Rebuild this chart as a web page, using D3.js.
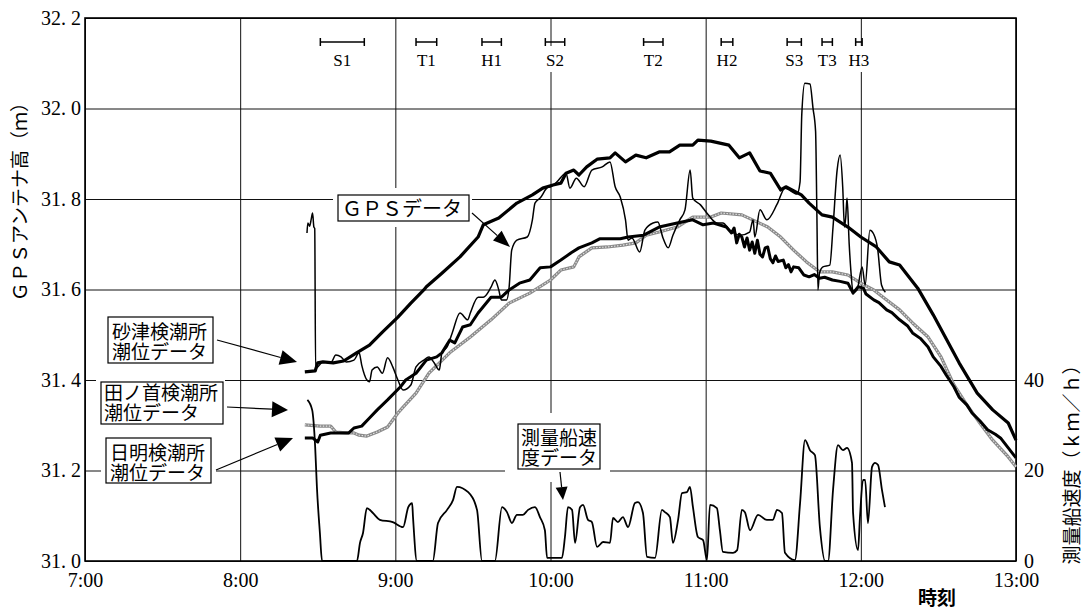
<!DOCTYPE html>
<html>
<head>
<meta charset="utf-8">
<script src="https://cdn.jsdelivr.net/npm/d3@7"></script>
<style>
  body { margin: 0; background: #fff; }
  svg { display: block; }
  .note { font-family: 'Noto Sans CJK JP', 'Noto Sans CJK SC', sans-serif; color: #000;
          white-space: nowrap; margin: 0; padding: 0; }
</style>
</head>
<body>
<svg id="chart" width="1084" height="610"></svg>
<script>
// ---- Data -----------------------------------------------------------------
// Tide level at the Sunatsu gauge (m)
const sunatsuTide = [
  ["8:25",31.418],["8:29",31.420],["8:30",31.438],["8:32",31.440],["8:36",31.438],["8:40",31.442],
  ["8:45",31.460],["8:50",31.477],["8:55",31.506],["9:01",31.539],["9:06",31.570],["9:11",31.599],
  ["9:12",31.606],["9:18",31.636],["9:25",31.672],["9:32",31.716],["9:34",31.743],["9:40",31.758],
  ["9:47",31.791],["9:53",31.809],["9:57",31.824],["10:01",31.831],["10:04",31.835],["10:06",31.857],
  ["10:09",31.864],["10:11",31.853],["10:14",31.871],["10:18",31.888],["10:23",31.891],["10:25",31.902],
  ["10:29",31.882],["10:33",31.897],["10:37",31.891],["10:42",31.904],["10:46",31.904],["10:50",31.919],
  ["10:55",31.919],["10:57",31.930],["11:02",31.928],["11:09",31.919],["11:13",31.891],["11:17",31.902],
  ["11:21",31.862],["11:25",31.857],["11:29",31.820],["11:31",31.827],["11:37",31.809],["11:40",31.791],
  ["11:45",31.765],["11:49",31.760],["11:55",31.738],["12:00",31.716],["12:06",31.694],["12:11",31.661],
  ["12:15",31.654],["12:22",31.603],["12:28",31.544],["12:38",31.438],["12:45",31.371],["12:51",31.334],
  ["12:57",31.305],["13:00",31.267]
];

// Tide level at the Tanokubi gauge (m)
const tanokubiTide = [
  ["8:25",31.301],["8:31",31.298],["8:35",31.298],["8:37",31.285],["8:41",31.283],["8:44",31.283],
  ["8:46",31.278],["8:49",31.276],["8:53",31.285],["8:57",31.296],["9:01",31.327],["9:03",31.340],
  ["9:08",31.371],["9:13",31.415],["9:21",31.460],["9:29",31.495],["9:37",31.533],["9:44",31.570],
  ["9:52",31.592],["10:00",31.621],["10:04",31.643],["10:09",31.650],["10:11",31.672],["10:16",31.692],
  ["10:22",31.694],["10:28",31.698],["10:33",31.703],["10:37",31.720],["10:42",31.727],["10:49",31.738],
  ["10:55",31.760],["11:02",31.760],["11:06",31.769],["11:14",31.765],["11:20",31.749],["11:24",31.738],
  ["11:29",31.716],["11:34",31.687],["11:39",31.661],["11:44",31.639],["11:49",31.639],["11:55",31.632],
  ["12:00",31.614],["12:05",31.599],["12:10",31.577],["12:15",31.555],["12:20",31.526],["12:26",31.495],
  ["12:31",31.451],["12:36",31.389],["12:41",31.345],["12:46",31.305],["12:51",31.267],["12:57",31.230],
  ["13:00",31.208]
];

// Tide level at the Hiakari gauge (m)
const hiakariTide = [
  ["8:25",31.272],["8:28",31.272],["8:30",31.263],["8:31",31.278],["8:35",31.283],["8:42",31.283],
  ["8:44",31.294],["8:47",31.298],["8:50",31.316],["8:53",31.334],["8:57",31.356],["9:02",31.385],
  ["9:04",31.400],["9:08",31.415],["9:12",31.444],["9:16",31.451],["9:18",31.460],["9:21",31.488],
  ["9:23",31.482],["9:26",31.517],["9:29",31.522],["9:32",31.548],["9:37",31.583],["9:41",31.583],
  ["9:44",31.599],["9:48",31.614],["9:52",31.621],["9:56",31.648],["10:00",31.650],["10:04",31.665],
  ["10:08",31.681],["10:11",31.692],["10:16",31.703],["10:19",31.712],["10:27",31.712],["10:30",31.716],
  ["10:36",31.720],["10:42",31.738],["10:49",31.747],["10:55",31.754],["10:59",31.743],["11:03",31.747],
  ["11:08",31.738],["11:10",31.725],["11:11",31.736],["11:12",31.703],["11:13",31.722],["11:14",31.716],
  ["11:15",31.694],["11:16",31.714],["11:17",31.687],["11:18",31.705],["11:19",31.680],["11:20",31.709],
  ["11:21",31.678],["11:22",31.672],["11:23",31.692],["11:24",31.694],["11:25",31.668],["11:26",31.659],
  ["11:27",31.674],["11:28",31.662],["11:30",31.665],["11:31",31.648],["11:32",31.655],["11:33",31.639],
  ["11:34",31.650],["11:36",31.648],["11:38",31.632],["11:40",31.628],["11:42",31.633],["11:44",31.625],
  ["11:46",31.627],["11:49",31.621],["11:52",31.618],["11:55",31.614],["11:57",31.592],["11:59",31.606],
  ["12:01",31.603],["12:02",31.590],["12:05",31.577],["12:07",31.571],["12:10",31.555],["12:12",31.549],
  ["12:15",31.533],["12:18",31.520],["12:20",31.504],["12:23",31.492],["12:26",31.473],["12:28",31.451],
  ["12:31",31.430],["12:33",31.411],["12:36",31.385],["12:38",31.362],["12:41",31.345],["12:43",31.327],
  ["12:46",31.310],["12:49",31.290],["12:52",31.280],["12:54",31.272],["12:57",31.250],["13:00",31.228]
];

// GPS antenna height on the survey boat (m)
const gpsHeight = [
  ["8:25:50",31.725],["8:26:10",31.747],["8:26:50",31.740],["8:27:30",31.756],["8:28:00",31.769],
  ["8:28:30",31.738],["8:28:50",31.735],["8:29:10",31.426],["8:30",31.429],["8:32",31.440],
  ["8:35",31.438],["8:37",31.455],["8:39",31.451],["8:41",31.440],["8:44",31.444],["8:46",31.460],
  ["8:47",31.433],["8:49",31.400],["8:50",31.396],["8:51",31.422],["8:53",31.429],["8:55",31.415],
  ["8:57",31.449],["8:59",31.429],["9:01",31.400],["9:03",31.378],["9:06",31.389],["9:08",31.429],
  ["9:11",31.444],["9:13",31.451],["9:15",31.438],["9:17",31.422],["9:18",31.460],["9:20",31.473],
  ["9:22",31.504],["9:25",31.548],["9:28",31.533],["9:29",31.548],["9:32",31.583],["9:34",31.583],
  ["9:37",31.605],["9:38:30",31.621],["9:40",31.599],["9:41",31.577],["9:43",31.577],["9:44",31.605],
  ["9:45",31.687],["9:47",31.709],["9:51",31.716],["9:53",31.754],["9:54",31.791],["9:56",31.802],
  ["9:59",31.826],["10:00",31.827],["10:02:30",31.838],["10:06",31.857],["10:07:30",31.824],
  ["10:10",31.846],["10:13",31.827],["10:16",31.864],["10:20",31.871],["10:23",31.882],["10:25",31.827],
  ["10:27",31.804],["10:29",31.754],["10:30",31.709],["10:31:30",31.714],["10:34:30",31.683],
  ["10:36:30",31.731],["10:39:40",31.747],["10:41:30",31.749],["10:43:30",31.714],["10:45:30",31.692],
  ["10:47:20",31.720],["10:50",31.754],["10:52",31.776],["10:54",31.864],["10:55",31.802],
  ["10:58",31.787],["11:01",31.765],["11:04:20",31.747],["11:06:40",31.747],["11:09:20",31.731],
  ["11:13:20",31.720],["11:17",31.727],["11:18:20",31.754],["11:19",31.716],["11:21",31.776],
  ["11:23:40",31.754],["11:27:40",31.789],["11:30:40",31.824],["11:35:20",31.811],["11:36:30",31.838],
  ["11:37:10",31.987],["11:38:20",32.056],["11:40:20",32.054],["11:41:30",32.001],["11:42:30",31.950],
  ["11:43:00",31.769],["11:43:25",31.599],["11:44",31.636],["11:45:20",31.650],["11:48",31.654],
  ["11:49:15",31.738],["11:50:50",31.864],["11:52",31.897],["11:53",31.826],["11:53:40",31.738],
  ["11:54:10",31.760],["11:54:40",31.802],["11:55:30",31.700],["11:56:10",31.640],["11:57",31.594],
  ["11:58:30",31.599],["12:00:30",31.650],["12:01:40",31.610],["12:03:30",31.731],["12:05",31.722],
  ["12:06:30",31.690],["12:08",31.610],["12:09:30",31.594]
];

// Survey boat speed (km/h)
const boatSpeed = [
  ["8:26",35.6],["8:27:50",33.4],["8:29",25.2],["8:29:40",16.4],["8:30:50",6.2],["8:31:40",0],
  ["8:45:10",0],["8:46:20",4.0],["8:47:30",6.2],["8:49",11.7],["8:51:20",10.6],["8:54",9.1],
  ["8:59",8.6],["9:03",7.5],["9:05",11.9],["9:06:30",12.8],["9:06:50",9.7],["9:08:20",0],
  ["9:14:30",0],["9:16:30",8.4],["9:20",11.3],["9:22:20",13.5],["9:23:50",16.4],["9:28:10",15.2],
  ["9:31:35",11.3],["9:33:30",0],["9:38:30",0],["9:41:15",11.9],["9:43:10",10.8],["9:45:05",8.4],
  ["9:47",10.2],["9:49:20",10.2],["9:51:20",11.3],["9:54",11.9],["9:55:55",9.7],["9:57:50",6.8],
  ["9:58:40",0.7],["10:01",0.7],["10:04:25",0.7],["10:05:35",5.3],["10:06:45",11.9],["10:08:20",11.3],
  ["10:09:30",4.0],["10:11:25",11.9],["10:12:35",12.4],["10:14:30",9.1],["10:16",8.6],["10:18",3.1],
  ["10:20:20",4.2],["10:23",4.0],["10:24:10",9.5],["10:26:05",8.6],["10:28",9.7],["10:30",7.5],
  ["10:32:40",12.8],["10:33:50",13.0],["10:35:45",10.6],["10:37:20",0.9],["10:40:25",0.7],
  ["10:43:05",11.3],["10:44:15",10.8],["10:46:10",9.7],["10:47:20",4.0],["10:49:20",9.1],
  ["10:50:50",15.0],["10:52:45",15.2],["10:53:55",16.4],["10:55:05",11.9],["10:57",5.3],["10:59",4.6],
  ["11:00:30",0.2],["11:01:40",12.4],["11:04:20",11.7],["11:05:30",6.8],["11:06:40",2.0],
  ["11:10:35",1.8],["11:12:10",2.4],["11:14",11.3],["11:15:10",10.8],["11:17:10",6.8],["11:20:15",10.2],
  ["11:23:40",9.1],["11:26",9.1],["11:27:35",11.3],["11:29:30",10.6],["11:30:40",1.8],["11:34:30",0.2],
  ["11:36:30",12.8],["11:38:25",26.7],["11:40:20",24.5],["11:42:15",23.4],["11:44:10",7.5],
  ["11:46:10",0],["11:47:20",0],["11:49:15",15.7],["11:51:10",25.6],["11:53:05",24.5],["11:54:40",25.0],
  ["11:56:35",21.7],["11:57",10.6],["11:58:55",2.4],["11:59:40",9.7],["12:00:50",17.9],["12:01:40",17.9],
  ["12:02:45",8.4],["12:04:20",20.8],["12:05:30",21.7],["12:06:40",21.2],["12:08:10",15.7],
  ["12:09:20",11.9]
];

// Survey runs marked along the top
const runLabels = ["S1","T1","H1","S2","T2","H2","S3","T3","H3"];
const runStarts = ["8:31","9:08","9:33:30","9:58","10:36","11:06","11:31:30","11:45","11:58"];
const runEnds   = ["8:48","9:16","9:41","10:05:30","10:43:30","11:10:30","11:37","11:49","12:00:30"];

// Axis ticks
const timeTicks = ["7:00","8:00","9:00","10:00","11:00","12:00","13:00"];
const heightTicks = [31.0, 31.2, 31.4, 31.6, 31.8, 32.0, 32.2];
const speedTicks = [0, 20, 40];

// ---- Scales ---------------------------------------------------------------
const toHours = s => { const p = s.split(":").map(Number); return p[0] + (p[1] || 0) / 60 + (p[2] || 0) / 3600; };

const plotLeft = 85, plotRight = 1016, plotTop = 18, plotBottom = 561;
const x = d3.scaleLinear().domain([7, 13]).range([plotLeft, plotRight]);
const y = d3.scaleLinear().domain([31.0, 32.2]).range([plotBottom, plotTop]);
const ySpeed = d3.scaleLinear().domain([0, 40]).range([plotBottom, y(31.4)]);

const svg = d3.select("#chart");
const serif = "'Liberation Serif', 'DejaVu Serif', serif";
const cjk = "'Noto Sans CJK JP', 'Noto Sans CJK SC', sans-serif";

// ---- Grid ------------------------------------------------------------------
const gridY = svg.append("g")
  .attr("transform", `translate(${plotLeft},0)`)
  .call(d3.axisLeft(y).tickValues(heightTicks).tickSize(-(plotRight - plotLeft)).tickPadding(4)
    .tickFormat(d => d.toFixed(1).replace(".", ". ")));
gridY.select(".domain").remove();
gridY.selectAll(".tick line").attr("stroke", "#111").attr("stroke-width", 1);
gridY.selectAll(".tick text")
  .attr("font-family", serif).attr("font-size", 20).attr("fill", "#000");

const gridX = svg.append("g")
  .attr("transform", `translate(0,${plotBottom})`)
  .call(d3.axisBottom(x).tickValues(timeTicks.map(toHours)).tickSize(-(plotBottom - plotTop)).tickPadding(12)
    .tickFormat((d, i) => timeTicks[i]));
gridX.select(".domain").remove();
gridX.selectAll(".tick line").attr("stroke", "#111").attr("stroke-width", 1);
gridX.selectAll(".tick text")
  .attr("font-family", serif).attr("font-size", 20).attr("fill", "#000");

const speedAxis = svg.append("g")
  .attr("transform", `translate(${plotRight},0)`)
  .call(d3.axisRight(ySpeed).tickValues(speedTicks).tickSize(0).tickPadding(8));
speedAxis.select(".domain").remove();
speedAxis.selectAll(".tick text")
  .attr("font-family", serif).attr("font-size", 20).attr("fill", "#000");

svg.append("rect")
  .attr("x", plotLeft).attr("y", plotTop).attr("width", plotRight - plotLeft).attr("height", plotBottom - plotTop)
  .attr("fill", "none").attr("stroke", "#000").attr("stroke-width", 1.6);

// ---- Survey run markers ------------------------------------------------------
const runs = runLabels.map((label, i) => ({ label, start: toHours(runStarts[i]), end: toHours(runEnds[i]) }));
const runG = svg.append("g");
runs.forEach(r => {
  const cx = (x(r.start) + x(r.end)) / 2;
  runG.append("rect").attr("x", cx - 12).attr("y", 46).attr("width", 24).attr("height", 26).attr("fill", "#fff");
  runG.append("line").attr("x1", x(r.start)).attr("x2", x(r.end)).attr("y1", 42).attr("y2", 42)
    .attr("stroke", "#000").attr("stroke-width", 1.5);
  [r.start, r.end].forEach(t => runG.append("line")
    .attr("x1", x(t)).attr("x2", x(t)).attr("y1", 38).attr("y2", 46)
    .attr("stroke", "#000").attr("stroke-width", 1.5));
  runG.append("text").attr("x", cx).attr("y", 66).attr("text-anchor", "middle")
    .attr("font-family", serif).attr("font-size", 17).text(r.label);
});

// ---- Series ------------------------------------------------------------------
const line = (yScale, curve) => d3.line().curve(curve || d3.curveLinear)
  .x(d => x(toHours(d[0]))).y(d => yScale(d[1]));

svg.append("path").datum(tanokubiTide).attr("d", line(y))
  .attr("fill", "none").attr("stroke", "#8a8a8a").attr("stroke-width", 3.2).attr("stroke-linejoin", "round");
svg.append("path").datum(tanokubiTide).attr("d", line(y))
  .attr("fill", "none").attr("stroke", "#e4e4e4").attr("stroke-width", 1.1).attr("stroke-dasharray", "1.5 1.5");

svg.append("path").datum(hiakariTide).attr("d", line(y))
  .attr("fill", "none").attr("stroke", "#000").attr("stroke-width", 3).attr("stroke-linejoin", "round");

svg.append("path").datum(sunatsuTide).attr("d", line(y))
  .attr("fill", "none").attr("stroke", "#000").attr("stroke-width", 3.2).attr("stroke-linejoin", "round");

svg.append("path").datum(gpsHeight).attr("d", line(y, d3.curveMonotoneX))
  .attr("fill", "none").attr("stroke", "#000").attr("stroke-width", 1.5).attr("stroke-linejoin", "round");

svg.append("path").datum(boatSpeed).attr("d", line(ySpeed, d3.curveMonotoneX))
  .attr("fill", "none").attr("stroke", "#000").attr("stroke-width", 1.8).attr("stroke-linejoin", "round");

// ---- Callouts ----------------------------------------------------------------
function arrow(x1, y1, x2, y2, len, half) {
  const a = Math.atan2(y2 - y1, x2 - x1);
  const bx = x2 - len * Math.cos(a), by = y2 - len * Math.sin(a);
  svg.append("line").attr("x1", x1).attr("y1", y1).attr("x2", bx).attr("y2", by)
    .attr("stroke", "#000").attr("stroke-width", 1.2);
  const px = -Math.sin(a) * half, py = Math.cos(a) * half;
  svg.append("path")
    .attr("d", `M${x2},${y2}L${bx + px},${by + py}L${bx - px},${by - py}Z`)
    .attr("fill", "#000");
}

// Boxed note: white margin, framed box, and a multi-line text block
function callout(bx, by, bw, bh, lines, textTop, textX, pad, size) {
  svg.append("rect").attr("x", bx - pad[0]).attr("y", by - pad[1])
    .attr("width", bw + pad[0] + pad[2]).attr("height", bh + pad[1] + pad[3]).attr("fill", "#fff");
  svg.append("rect").attr("x", bx).attr("y", by).attr("width", bw).attr("height", bh)
    .attr("fill", "#fff").attr("stroke", "#000").attr("stroke-width", 1.2);
  const fo = svg.append("foreignObject")
    .attr("x", textX).attr("y", textTop).attr("width", bw).attr("height", lines.length * 20 + 4);
  fo.append("xhtml:div").attr("class", "note")
    .style("font-size", (size || 19) + "px").style("line-height", "20px")
    .html(lines.join("<br>"));
}

callout(108, 317, 105, 46, ["砂津検潮所", "潮位データ"], 321, 112, [5, 5, 5, 5]);
arrow(217, 340, 297, 362, 17, 7.5);

callout(101, 382, 122, 42, ["田ノ首検潮所", "潮位データ"], 382, 104, [5, 4, 2, 4]);
arrow(227, 407, 288, 410, 16, 8);

callout(106, 438, 105, 45, ["日明検潮所", "潮位データ"], 442, 110, [5, 4, 5, 4]);
arrow(216, 470, 293, 438, 17, 7.5);

callout(338, 195, 131, 26, ["ＧＰＳデータ"], 198, 342, [5, 7, 3, 6], 20);
arrow(472, 213, 510, 247, 17, 6.5);

callout(518, 424, 82, 45, ["測量船速", "度データ"], 427, 521, [13, 11, 10, 13]);
arrow(560, 472, 563, 500, 13, 6);

// ---- Axis titles -------------------------------------------------------------
svg.append("text").attr("transform", "translate(18,197) rotate(-90)")
  .attr("text-anchor", "middle").attr("dominant-baseline", "central")
  .attr("font-family", cjk).attr("font-size", 19).text("ＧＰＳアンテナ高（ｍ）");

svg.append("text").attr("transform", "translate(1070,460) rotate(-90)")
  .attr("text-anchor", "middle").attr("dominant-baseline", "central")
  .attr("font-family", cjk).attr("font-size", 19).text("測量船速度（ｋｍ／ｈ）");

svg.append("text").attr("x", 937).attr("y", 596)
  .attr("text-anchor", "middle").attr("dominant-baseline", "central")
  .attr("font-family", cjk).attr("font-size", 19).attr("font-weight", 600).text("時刻");
</script>
</body>
</html>
